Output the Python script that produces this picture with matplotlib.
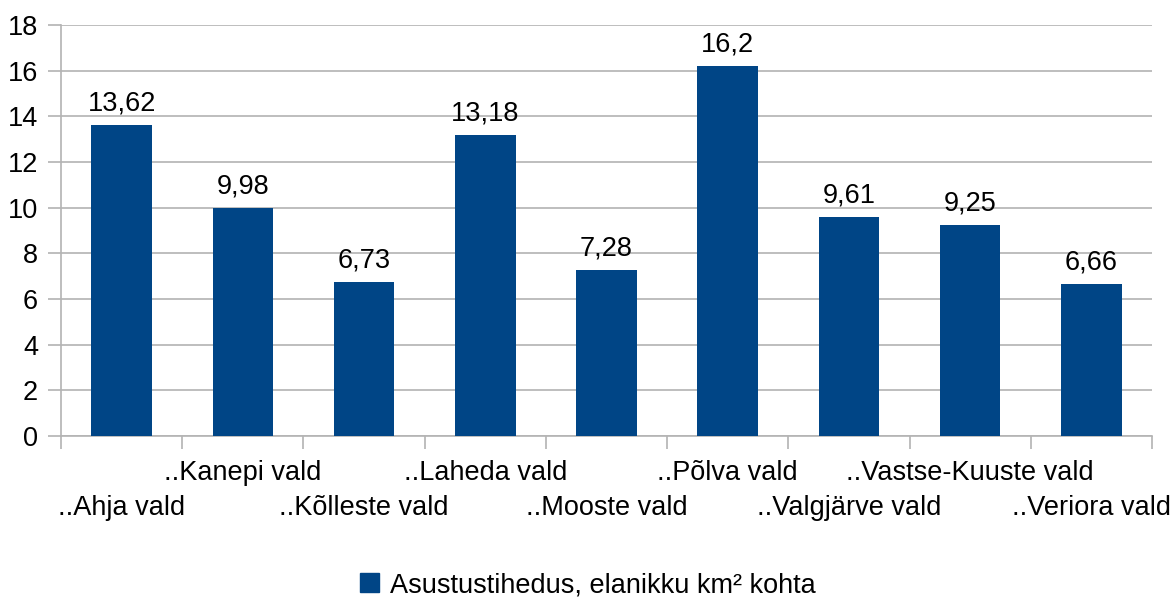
import matplotlib
matplotlib.use("Agg")
import matplotlib.pyplot as plt
from matplotlib.patches import Patch

categories = ["..Ahja vald", "..Kanepi vald", "..Kõlleste vald", "..Laheda vald",
              "..Mooste vald", "..Põlva vald", "..Valgjärve vald",
              "..Vastse-Kuuste vald", "..Veriora vald"]
values = [13.62, 9.98, 6.73, 13.18, 7.28, 16.2, 9.61, 9.25, 6.66]
series_name = "Asustustihedus, elanikku km² kohta"
yticks = [0, 2, 4, 6, 8, 10, 12, 14, 16, 18]

plt.rcParams['font.family'] = ['Liberation Sans', 'DejaVu Sans']
FS = 19.5
bar_color = "#004586"
grid_color = "#b3b3b3"

fig = plt.figure(figsize=(11.75, 5.98), dpi=100)
ax = fig.add_axes([61/1175, 1-436/598, (1152-61)/1175, (436-25)/598])

x = list(range(len(categories)))
bars = ax.bar(x, values, width=0.5, color=bar_color, zorder=3)
ax.bar_label(bars, labels=[f"{v:g}".replace('.', ',') for v in values],
             padding=6, fontsize=FS, color="#000000")

ax.set_xlim(-0.5, len(categories) - 0.5)
ax.set_ylim(0, 18)
ax.set_yticks(yticks)
ax.set_yticklabels([str(t) for t in yticks], fontsize=FS)
ax.yaxis.grid(True, color=grid_color, linewidth=1.2, zorder=0)
ax.tick_params(axis='y', length=9.5, width=1.2, color=grid_color, pad=7)

# category boundaries as ticks
ax.set_xticks([i - 0.5 for i in range(len(categories) + 1)])
ax.set_xticklabels([])
ax.tick_params(axis='x', length=9, width=1.2, color=grid_color)

for i, lab in enumerate(categories):
    off = -24 if i % 2 == 1 else -59
    ax.annotate(lab, xy=(i, 0), xycoords=('data', 'axes fraction'),
                xytext=(0, off * 0.72), textcoords='offset points',
                ha='center', va='top', fontsize=FS, annotation_clip=False)

for s in ['top', 'right']:
    ax.spines[s].set_visible(False)
for s in ['left', 'bottom']:
    ax.spines[s].set_color(grid_color)
    ax.spines[s].set_linewidth(1.2)

handle = Patch(facecolor=bar_color, edgecolor=bar_color)
fig.legend([handle], [series_name], loc='center',
           bbox_to_anchor=(0.5, 1 - 585/598), frameon=False, fontsize=FS,
           handlelength=0.7, handleheight=0.7, handletextpad=0.4)

fig.savefig("out.png", dpi=100)
